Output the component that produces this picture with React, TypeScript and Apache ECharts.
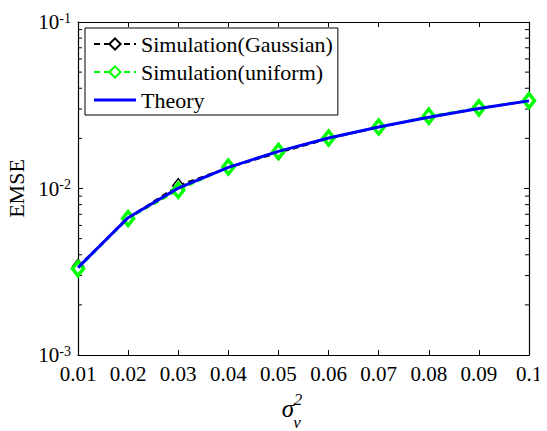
import React, { useEffect, useRef } from "react";
import * as echarts from "echarts";

const xValues = [0.01, 0.02, 0.03, 0.04, 0.05, 0.06, 0.07, 0.08, 0.09, 0.1];
const gaussian = [0.0034, 0.00665, 0.0104, 0.01335, 0.0164, 0.0199, 0.0233, 0.0268, 0.0302, 0.0336];
const uniform = [0.0033, 0.0066, 0.00975, 0.01345, 0.0167, 0.0201, 0.0234, 0.0272, 0.0305, 0.0337];
const theory = [0.00335, 0.00668, 0.01005, 0.0134, 0.0167, 0.0201, 0.0234, 0.0268, 0.0302, 0.0336];
const minorTicks = [0.002, 0.003, 0.004, 0.005, 0.006, 0.007, 0.008, 0.009, 0.02, 0.03, 0.04, 0.05, 0.06, 0.07, 0.08, 0.09];
const seriesNames = ["Simulation(Gaussian)", "Simulation(uniform)", "Theory"];

const FONT = "Liberation Serif";

export default function App() {
  const ref = useRef<HTMLDivElement>(null);
  useEffect(() => {
    if (!ref.current) return;
    const chart = echarts.init(ref.current, null, { renderer: "svg" });
    const pair = (ys: number[]) => xValues.map((x, i) => [x, ys[i]]);
    const yLabel = (v: number) => {
      const e = Math.round(Math.log10(v));
      return `{b|10}{s|${e}}`;
    };
    const option: any = {
      animation: false,
      backgroundColor: "#fff",
      textStyle: { fontFamily: FONT, color: "#000" },
      grid: { left: 70, right: 18, top: 14, bottom: 76, containLabel: false, outerBoundsMode: "none" },
      xAxis: [
        {
          type: "value",
          min: 0.01,
          max: 0.1,
          interval: 0.01,
          axisLine: { lineStyle: { color: "#000", width: 1.2 } },
          axisTick: { inside: true, length: 5, lineStyle: { color: "#000" } },
          splitLine: { show: false },
          axisLabel: {
            color: "#000",
            fontFamily: FONT,
            fontSize: 21,
            margin: 8,
            formatter: (v: number) => String(+v.toFixed(2)),
          },
        },
        {
          type: "value",
          position: "top",
          min: 0.01,
          max: 0.1,
          interval: 0.01,
          axisLine: { lineStyle: { color: "#000", width: 1.2 } },
          axisTick: { inside: true, length: 5, lineStyle: { color: "#000" } },
          splitLine: { show: false },
          axisLabel: { show: false },
        },
      ],
      yAxis: [
        {
          type: "log",
          logBase: 10,
          min: 0.001,
          max: 0.1,
          name: "EMSE",
          nameLocation: "middle",
          nameGap: 44,
          nameTextStyle: { color: "#000", fontFamily: FONT, fontSize: 22 },
          axisLine: { lineStyle: { color: "#000", width: 1.2 } },
          axisTick: { inside: true, length: 5, lineStyle: { color: "#000" } },
          splitLine: { show: false },
          axisLabel: {
            color: "#000",
            fontFamily: FONT,
            margin: 7,
            formatter: yLabel,
            rich: {
              b: { fontFamily: FONT, fontSize: 21, color: "#000", lineHeight: 22 },
              s: { fontFamily: FONT, fontSize: 14, color: "#000", verticalAlign: "top", lineHeight: 14 },
            },
          },
        },
        {
          type: "log",
          logBase: 10,
          min: 0.001,
          max: 0.1,
          position: "right",
          axisLine: { lineStyle: { color: "#000", width: 1.2 } },
          axisTick: { inside: true, length: 5, lineStyle: { color: "#000" } },
          splitLine: { show: false },
          axisLabel: { show: false },
        },
      ],
      legend: {
        data: [
          seriesNames[0],
          seriesNames[1],
          { name: seriesNames[2], icon: "path://M0,0 L42,0 L42,3 L0,3 Z" },
        ],
        orient: "vertical",
        left: 77,
        top: 20,
        itemWidth: 42,
        itemHeight: 14,
        itemGap: 6,
        padding: [5, 5, 4, 8],
        borderColor: "#000",
        borderWidth: 1,
        backgroundColor: "#fff",
        textStyle: { color: "#000", fontFamily: FONT, fontSize: 22, lineHeight: 21 },
      },
      graphic: [
        { type: "text", x: 280, y: 400, style: { text: "σ", font: `italic 25px ${FONT}`, fill: "#000", textAlign: "center", textVerticalAlign: "middle" } },
        { type: "text", x: 290, y: 391, style: { text: "2", font: `italic 17px ${FONT}`, fill: "#000", textAlign: "center", textVerticalAlign: "middle" } },
        { type: "text", x: 289, y: 414, style: { text: "v", font: `italic 17px ${FONT}`, fill: "#000", textAlign: "center", textVerticalAlign: "middle" } },
      ],
      series: [
        {
          name: seriesNames[0],
          type: "line",
          data: pair(gaussian),
          symbol: "diamond",
          symbolSize: [11, 14],
          showAllSymbol: true,
          lineStyle: { color: "#000", width: 2, type: [6, 4] },
          itemStyle: { color: "#fff", borderColor: "#000", borderWidth: 1.5 },
          z: 2,
        },
        {
          name: seriesNames[1],
          type: "line",
          data: pair(uniform),
          symbol: "diamond",
          symbolSize: [11, 14],
          showAllSymbol: true,
          lineStyle: { color: "#00ff00", width: 2, type: [6, 4] },
          itemStyle: { color: "#fff", borderColor: "#00ff00", borderWidth: 3.5 },
          z: 3,
        },
        {
          name: seriesNames[2],
          type: "line",
          data: pair(theory),
          symbol: "none",
          lineStyle: { color: "#0000ff", width: 3 },
          itemStyle: { color: "#0000ff" },
          z: 4,
        },
        {
          type: "custom",
          silent: true,
          data: minorTicks.map((v) => [0.01, v]),
          encode: { x: 0, y: 1 },
          renderItem: (params: any, api: any) => {
            const y = api.coord([0.01, api.value(1)])[1];
            const cs = params.coordSys;
            const style = { stroke: "#000", lineWidth: 1 };
            return {
              type: "group",
              children: [
                { type: "line", shape: { x1: cs.x, y1: y, x2: cs.x + 4, y2: y }, style },
                { type: "line", shape: { x1: cs.x + cs.width - 4, y1: y, x2: cs.x + cs.width, y2: y }, style },
              ],
            };
          },
          z: 1,
        },
      ],
    };
    chart.setOption(option);
    return () => chart.dispose();
  }, []);
  return <div ref={ref} style={{ width: 539, height: 423 }} />;
}
